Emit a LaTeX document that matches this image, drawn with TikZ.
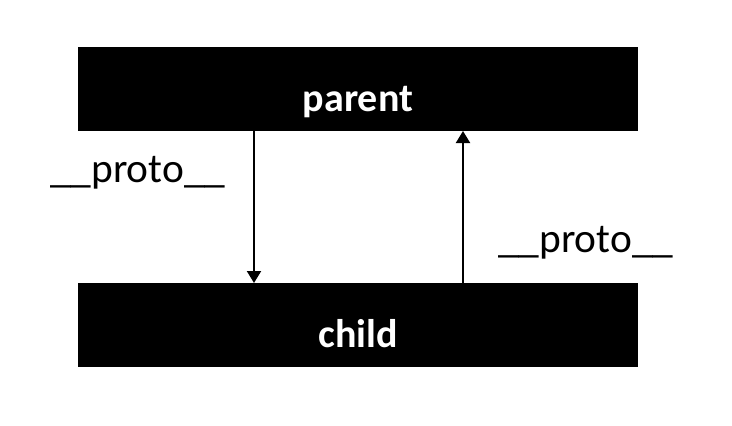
\documentclass[tikz,border=0pt]{standalone}
\usepackage{fontspec}
\setmainfont{Carlito}
\usetikzlibrary{arrows.meta}
\begin{document}
\begin{tikzpicture}[x=1pt,y=-1pt,
  blk/.style={fill=black,draw=none,minimum width=560pt,minimum height=84pt,inner sep=0pt,text height=44pt,text depth=0pt,text=white,font=\fontsize{40}{48}\selectfont\bfseries},
  lbl/.style={inner sep=0pt,font=\fontsize{41.4}{48}\selectfont},
  arr/.style={line width=2pt,-{Triangle[length=12pt,width=14pt]}}]
\useasboundingbox (0,0) rectangle (732,426);
\node[blk] (parent) at (358,89) {parent};
\node[blk] (child) at (358,325) {child};
\coordinate (a1) at (254,131);
\coordinate (a2) at (254,283);
\coordinate (b1) at (463,283);
\coordinate (b2) at (463,131);
\draw[arr] (a1) -- (a2);
\draw[arr] (b1) -- (b2);
\node[lbl,anchor=base west] (l1) at (50,182) {\_\_proto\_\_};
\node[lbl,anchor=base west] (l2) at (498,252) {\_\_proto\_\_};
\end{tikzpicture}
\end{document}
